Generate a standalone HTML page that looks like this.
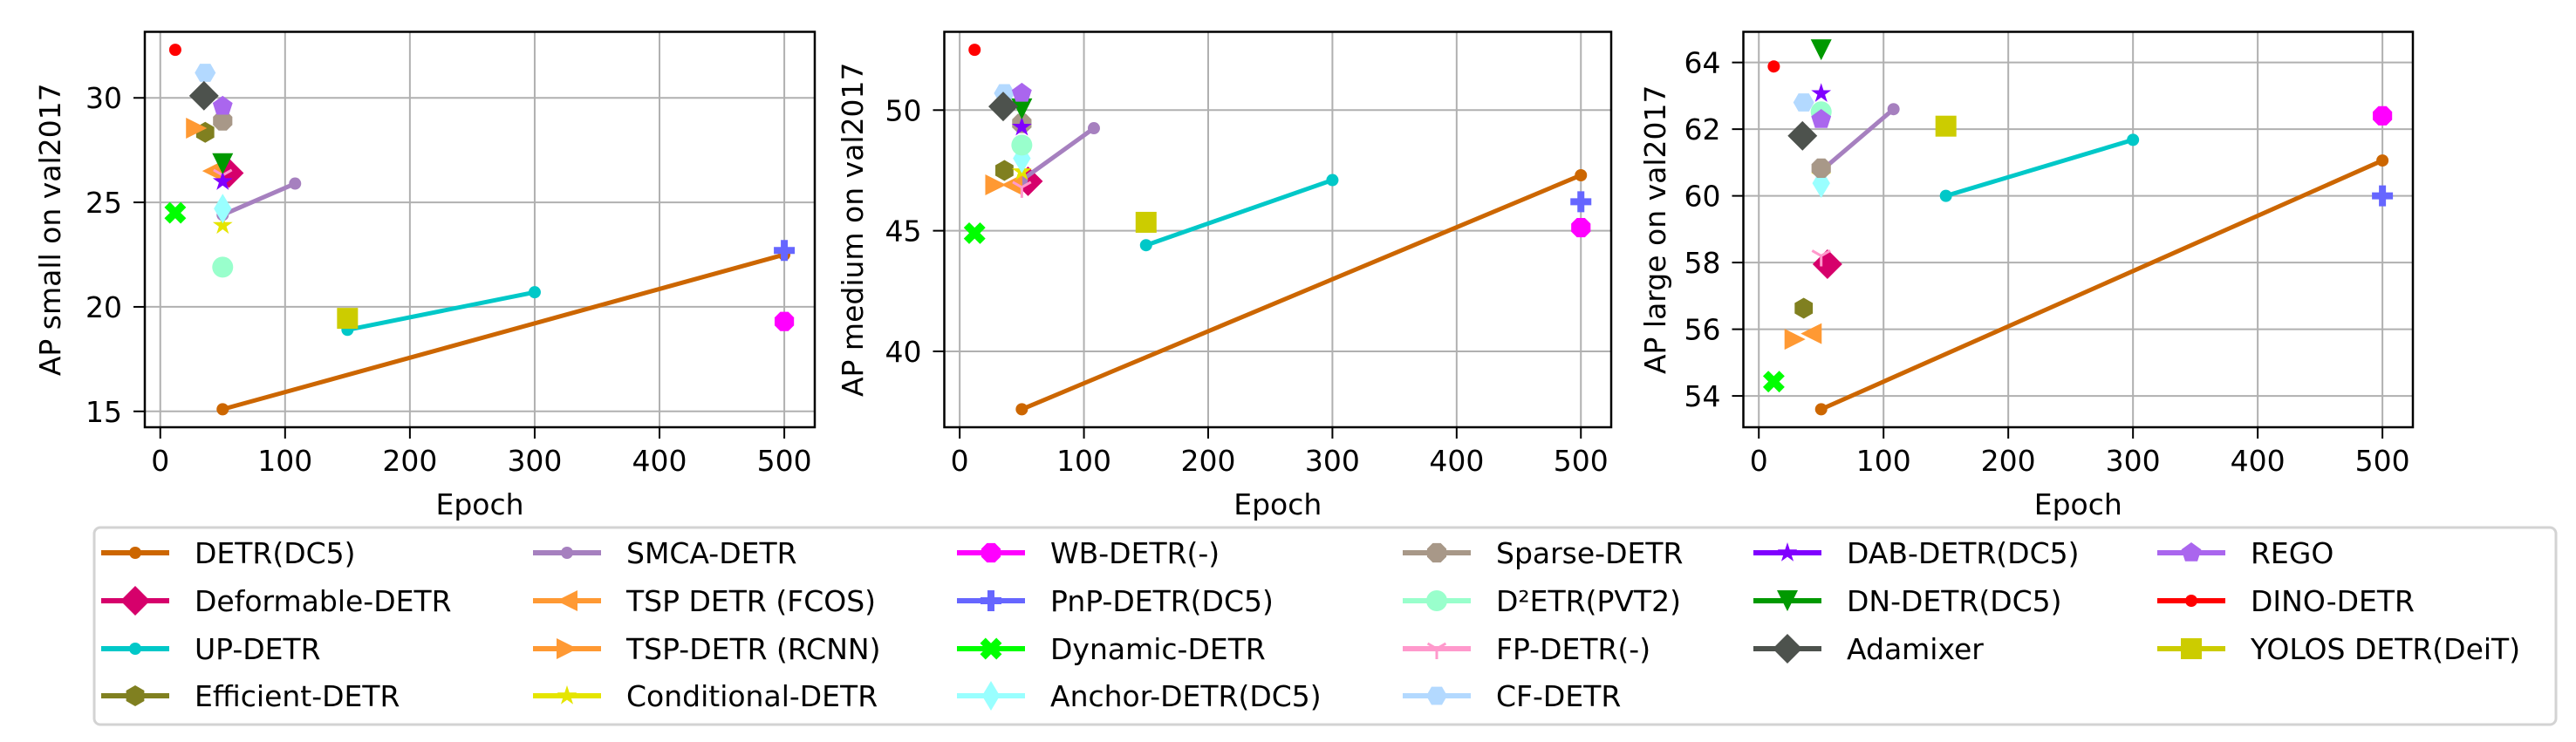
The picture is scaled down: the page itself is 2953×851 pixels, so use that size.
<!DOCTYPE html>
<html><head><meta charset="utf-8"><style>
html,body{margin:0;padding:0;background:#fff}
svg{display:block}
text{font-family:"DejaVu Sans","Liberation Sans",sans-serif;font-size:33px;fill:#000}
</style></head><body>
<svg id="fig" width="2953" height="851" viewBox="0 0 2953 851" xmlns="http://www.w3.org/2000/svg"></svg>
<script>
const names=["DETR(DC5)","Deformable-DETR","UP-DETR","Efficient-DETR","SMCA-DETR","TSP DETR (FCOS)","TSP-DETR (RCNN)","Conditional-DETR","WB-DETR(-)","PnP-DETR(DC5)","Dynamic-DETR","Anchor-DETR(DC5)","Sparse-DETR","D²ETR(PVT2)","FP-DETR(-)","CF-DETR","DAB-DETR(DC5)","DN-DETR(DC5)","Adamixer","REGO","DINO-DETR","YOLOS DETR(DeiT)"];
const epochs=[[50,500],[55],[150,300],[36],[50,108],[42],[29],[50],[500],[500],[12],[50],[50],[50],[50],[36],[50],[50],[35],[50],[12],[150]];
const apSmall=[[15.1,22.5],[26.4],[18.9,20.7],[28.35],[24.4,25.9],[26.5],[28.55],[23.9],[19.3],[22.7],[24.5],[24.7],[28.9],[21.9],[26.3],[31.2],[26.0],[26.85],[30.1],[29.6],[32.3],[19.45]];
const apMedium=[[37.6,47.3],[47.05],[44.4,47.1],[47.5],[47.1,49.25],[46.9],[46.9],[47.45],[45.13],[46.2],[44.9],[48.0],[49.45],[48.55],[46.8],[50.7],[49.3],[50.05],[50.15],[50.7],[52.5],[45.35]];
const apLarge=[[53.6,61.06],[57.95],[60.0,61.68],[56.63],[60.75,62.6],[55.87],[55.7],[60.6],[62.4],[60.0],[54.43],[60.38],[60.83],[62.52],[58.2],[62.8],[63.07],[64.38],[61.8],[62.29],[63.88],[62.09]];
const xTicks=[0,100,200,300,400,500];
const yTicksSmall=[15,20,25,30];
const yTicksMedium=[40,45,50];
const yTicksLarge=[54,56,58,60,62,64];
const yTitles=["AP small on val2017","AP medium on val2017","AP large on val2017"];

const colors=["#cc6600","#d6006b","#00c8c8","#808020","#a680bf","#ff9933","#ff9933","#e5e500","#ff00ff","#6666ff","#00ff00","#99ffff","#a89888","#99ffcc","#ff99cc","#b3d9ff","#8000ff","#009900","#4d524d","#aa66ee","#ff0000","#cccc00"];
const markers=[".","D",".","h",".","<",">","*","8","P","X","d","8","o","1","H","*","v","D","p",".","s"];
const S=24;
const NS="http://www.w3.org/2000/svg";
const svg=document.getElementById('fig');
function mk(tag,attrs,parent){const e=document.createElementNS(NS,tag);for(const k in attrs)e.setAttribute(k,attrs[k]);(parent||svg).appendChild(e);return e;}
function poly(pts){return pts.map(p=>p[0].toFixed(2)+","+p[1].toFixed(2)).join(" ");}
function regular(n,r,rot){const a=[];for(let i=0;i<n;i++){const t=rot+i*2*Math.PI/n;a.push([r*Math.sin(t),-r*Math.cos(t)]);}return a;}
function drawMarker(g,m,x,y,c){
  let el;const h=S/2;
  if(m==="o"){el=mk('circle',{cx:x,cy:y,r:h,fill:c},g);}
  else if(m==="."){el=mk('circle',{cx:x,cy:y,r:h/2+1,fill:c},g);}
  else if(m==="s"){el=mk('rect',{x:x-h,y:y-h,width:S,height:S,fill:c},g);}
  else {
    let pts;
    if(m==="D")pts=[[0,-0.707*S],[0.707*S,0],[0,0.707*S],[-0.707*S,0]];
    else if(m==="d")pts=[[0,-0.707*S],[0.424*S,0],[0,0.707*S],[-0.424*S,0]];
    else if(m==="h")pts=regular(6,h,0);
    else if(m==="H")pts=regular(6,h,Math.PI/6);
    else if(m==="8")pts=regular(8,h,Math.PI/8);
    else if(m==="p")pts=regular(5,h,0);
    else if(m==="*"){pts=[];for(let i=0;i<10;i++){const r=i%2?h*0.382:h;const t=i*Math.PI/5;pts.push([r*Math.sin(t),-r*Math.cos(t)]);}}
    else if(m==="v")pts=[[0,h],[-h,-h],[h,-h]];
    else if(m==="<")pts=[[-h,0],[h,-h],[h,h]];
    else if(m===">")pts=[[h,0],[-h,-h],[-h,h]];
    else if(m==="P"){const a=S/6;pts=[[-a,-h],[a,-h],[a,-a],[h,-a],[h,a],[a,a],[a,h],[-a,h],[-a,a],[-h,a],[-h,-a],[-a,-a]];}
    else if(m==="X"){const a=S/6;const b=[[-a,-h],[a,-h],[a,-a],[h,-a],[h,a],[a,a],[a,h],[-a,h],[-a,a],[-h,a],[-h,-a],[-a,-a]];const c45=Math.SQRT1_2;pts=b.map(p=>[(p[0]-p[1])*c45*1.1,(p[0]+p[1])*c45*1.1]);}
    else if(m==="1"){el=mk('path',{d:`M${x},${y}L${x},${y+h}M${x},${y}L${x-h*0.866},${y-h*0.5}M${x},${y}L${x+h*0.866},${y-h*0.5}`,stroke:c,'stroke-width':3,fill:'none'},g);return el;}
    el=mk('polygon',{points:poly(pts.map(p=>[p[0]+x,p[1]+y])),fill:c},g);
  }
  return el;
}
function extent(arrs){let mn=Infinity,mx=-Infinity;arrs.forEach(a=>a.forEach(v=>{mn=Math.min(mn,v);mx=Math.max(mx,v);}));const m=(mx-mn)*0.05;return [mn-m,mx+m];}

const panels=[
 {L:166,R:934,vals:apSmall,ticks:yTicksSmall,title:yTitles[0],tx:57,key:'small'},
 {L:1082.5,R:1847,vals:apMedium,ticks:yTicksMedium,title:yTitles[1],tx:977,key:'medium'},
 {L:1998.5,R:2766,vals:apLarge,ticks:yTicksLarge,title:yTitles[2],tx:1897,key:'large'}
];
const T=36.5,B=490;
const xr=extent(epochs);
panels.forEach(p=>{
  const yr=extent(p.vals);
  const X=v=>p.L+(v-xr[0])/(xr[1]-xr[0])*(p.R-p.L);
  const Y=v=>B-(v-yr[0])/(yr[1]-yr[0])*(B-T);
  const g=mk('g',{});
  
  
  const grid=mk('g',{},g);
  
  
  xTicks.forEach(t=>{const x=X(t);
    mk('line',{x1:x,x2:x,y1:T,y2:B,stroke:'#b0b0b0','stroke-width':2},grid);
    mk('line',{x1:x,x2:x,y1:B,y2:B+13,stroke:'#000','stroke-width':2},g);
    const tl=mk('text',{x:x,y:B+50,'text-anchor':'middle'},g);tl.textContent=t;
    
    
  });
  p.ticks.forEach(t=>{const y=Y(t);
    mk('line',{x1:p.L,x2:p.R,y1:y,y2:y,stroke:'#b0b0b0','stroke-width':2},grid);
    mk('line',{x1:p.L-13,x2:p.L,y1:y,y2:y,stroke:'#000','stroke-width':2},g);
    const tl=mk('text',{x:p.L-26,y:y+12,'text-anchor':'end'},g);tl.textContent=t;
    
    
  });
  names.forEach((n,i)=>{
    const sg=mk('g',{},g);
    
    
    const ep=epochs[i],vs=p.vals[i];
    if(ep.length>1){mk('polyline',{points:poly(ep.map((e,k)=>[X(e),Y(vs[k])])),fill:'none',stroke:colors[i],'stroke-width':5},sg);}
    ep.forEach((e,k)=>{const m=drawMarker(sg,markers[i],X(e),Y(vs[k]),colors[i]);
      
      });
  });
  mk('rect',{x:p.L,y:T,width:p.R-p.L,height:B-T,fill:'none',stroke:'#000','stroke-width':2.5},g);
  const xl=mk('text',{x:(p.L+p.R)/2,y:590,'text-anchor':'middle'},g);xl.textContent='Epoch';
  
  
  const yl=mk('text',{x:0,y:0,'text-anchor':'middle',transform:`translate(${p.tx+12},${(T+B)/2}) rotate(-90)`},g);yl.textContent=p.title;
  
  
});

// legend
const lg=mk('g',{});


mk('rect',{x:108,y:605,width:2822,height:226,rx:7,fill:'#fff',stroke:'#d3d3d3','stroke-width':3},lg);
const colX=[116,611,1097,1608,2010,2473];
const rowY=[634,689,744,798];
const perCol=[4,4,4,4,3,3];
let idx=0;
perCol.forEach((cnt,c)=>{for(let r=0;r<cnt;r++){const i=idx++;
  const e=mk('g',{},lg);
  
  
  const x0=colX[c],y=rowY[r];
  mk('line',{x1:x0,x2:x0+78,y1:y,y2:y,stroke:colors[i],'stroke-width':6},e);
  drawMarker(e,markers[i],x0+39,y,colors[i]);
  const t=mk('text',{x:x0+107,y:y+12},e);t.textContent=names[i];
}});
</script>
</body></html>
